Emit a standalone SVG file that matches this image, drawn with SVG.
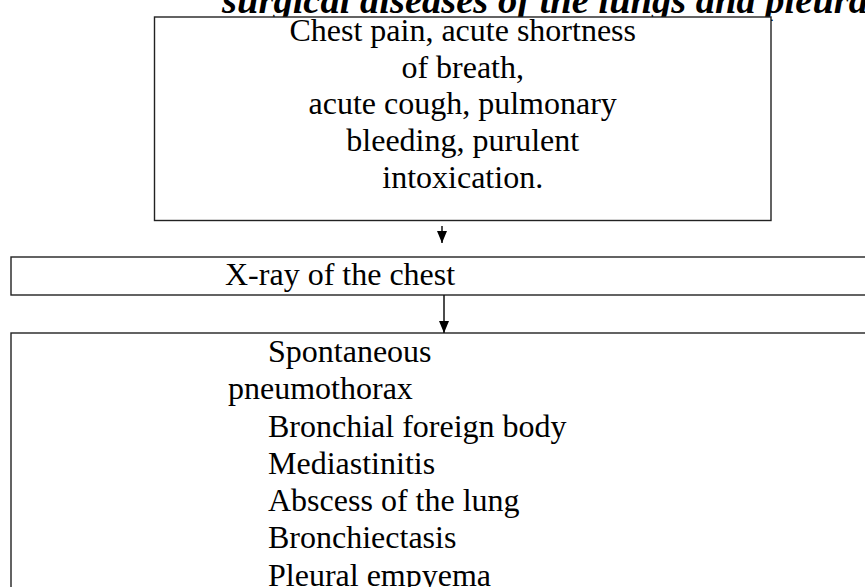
<svg xmlns="http://www.w3.org/2000/svg" width="865" height="587" viewBox="0 0 865 587">
<style>
.box{fill:#fff;stroke:#222;stroke-width:1.4}
.t{font-family:"Liberation Serif","Times New Roman",serif;font-size:32px;fill:#000}
.title{font-family:"Liberation Serif","Times New Roman",serif;font-size:38.5px;font-weight:bold;font-style:italic;fill:#000}
.c{text-anchor:middle}
.ln{stroke:#111;stroke-width:1.5;fill:none}
</style>
<defs>
<marker id="ah" markerWidth="12" markerHeight="10" refX="12" refY="5" orient="auto" markerUnits="userSpaceOnUse" viewBox="0 0 12 10">
<path d="M0,0 L12,5 L0,10 Z" fill="#000"/>
</marker>
</defs>
<rect width="865" height="587" fill="#fff"/>
<text class="title" x="222" y="13">surgical diseases of the lungs and pleura</text>
<g id="n1">
<rect class="box" x="154.5" y="17" width="616.5" height="203.5"/>
<text class="t c" x="462.7" y="41">Chest pain, acute shortness</text>
<text class="t c" x="462.7" y="78">of breath,</text>
<text class="t c" x="462.7" y="114">acute cough, pulmonary</text>
<text class="t c" x="462.7" y="151">bleeding, purulent</text>
<text class="t c" x="462.7" y="188">intoxication.</text>
</g>
<g id="n2">
<rect class="box" x="11" y="257" width="870" height="38"/>
<text class="t" x="225" y="285">X-ray of the chest</text>
</g>
<g id="n3">
<rect class="box" x="11" y="333" width="870" height="280"/>
<text class="t" x="268" y="362">Spontaneous</text>
<text class="t" x="228" y="399">pneumothorax</text>
<text class="t" x="268" y="437">Bronchial foreign body</text>
<text class="t" x="268" y="474">Mediastinitis</text>
<text class="t" x="268" y="511">Abscess of the lung</text>
<text class="t" x="268" y="548">Bronchiectasis</text>
<text class="t" x="268" y="586">Pleural empyema</text>
</g>
<g id="connectors">
<line class="ln" x1="442" y1="226" x2="442" y2="243" marker-end="url(#ah)"/>
<line class="ln" x1="444" y1="295" x2="444" y2="333" marker-end="url(#ah)"/>
</g>
</svg>
